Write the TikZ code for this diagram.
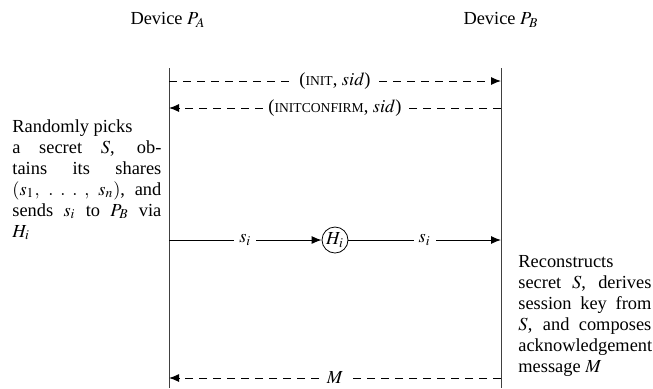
\documentclass[tikz,border=0pt]{standalone}
\usepackage{mathptmx}
\usepackage{fontspec}
\setmainfont{Liberation Serif}
\usepackage{tikz}
\usetikzlibrary{arrows.meta}
\usetikzlibrary{calc}

\newcommand{\fakesc}[1]{{\fontsize{6.8}{7}\selectfont #1}}

\tikzset{
  lifeline/.style={line width=0.5pt, color=black!75},
  msgdash/.style={line width=0.5pt, dash pattern=on 4pt off 3pt, -{Latex[length=5pt,width=4pt]}},
  msgsolid/.style={line width=0.5pt, -{Latex[length=5pt,width=4pt]}},
  msglabel/.style={fill=white, inner xsep=2.5pt, inner ysep=0.5pt},
  note/.style={anchor=north west, align=justify, inner sep=0pt}
}

\begin{document}
\begin{tikzpicture}[x=0.5pt, y=-0.5pt, font=\fontsize{9.2}{10.5}\selectfont]
\useasboundingbox (0,0) rectangle (653,388);

% parties and their lifelines
\node (devA) at (168,20) {Device $P_A$};
\node (devB) at (501,20) {Device $P_B$};
\coordinate (topA) at (169,68);
\coordinate (topB) at (501,68);
\coordinate (botA) at (169,388);
\coordinate (botB) at (501,388);
\draw[lifeline] (topA) -- (botA);
\draw[lifeline] (topB) -- (botB);

% rows on the lifelines
\coordinate (a1) at (169,81);   \coordinate (b1) at (501,81);
\coordinate (a2) at (169,108);  \coordinate (b2) at (501,108);
\coordinate (a3) at (169,240);  \coordinate (b3) at (501,240);
\coordinate (a4) at (169,378);  \coordinate (b4) at (501,378);

% handshake
\draw[msgdash] (a1) -- node[msglabel] {(\fakesc{INIT}, $sid$)} (b1);
\draw[msgdash] (b2) -- node[msglabel] {(\fakesc{INITCONFIRM}, $sid$)} (a2);

% share through the helper
\node[circle, draw, inner sep=0pt, minimum size=13pt] (helper) at (335,240) {$H_i$};
\draw[msgsolid] (a3) -- node[msglabel] {$s_i$} (helper);
\draw[msgsolid] (helper) -- node[msglabel] {$s_i$} (b3);

% acknowledgement
\draw[msgdash] (b4) -- node[msglabel] {$M$} (a4);

% notes beside the lifelines
\node[note, text width=74.5pt] (noteA) at (12,119)
  {Randomly picks\newline a secret $S$, ob-\linebreak tains its shares\linebreak
   $(s_1,\;.\;.\;.\;,\;s_n)$, and\linebreak sends $s_i$ to $P_B$ via\linebreak $H_i$};
\node[note, text width=66.5pt] (noteB) at (518,255)
  {Reconstructs\newline secret $S$, derives\linebreak session key from\linebreak
   $S$, and composes\linebreak acknowledgement\linebreak message $M$};
\end{tikzpicture}
\end{document}
